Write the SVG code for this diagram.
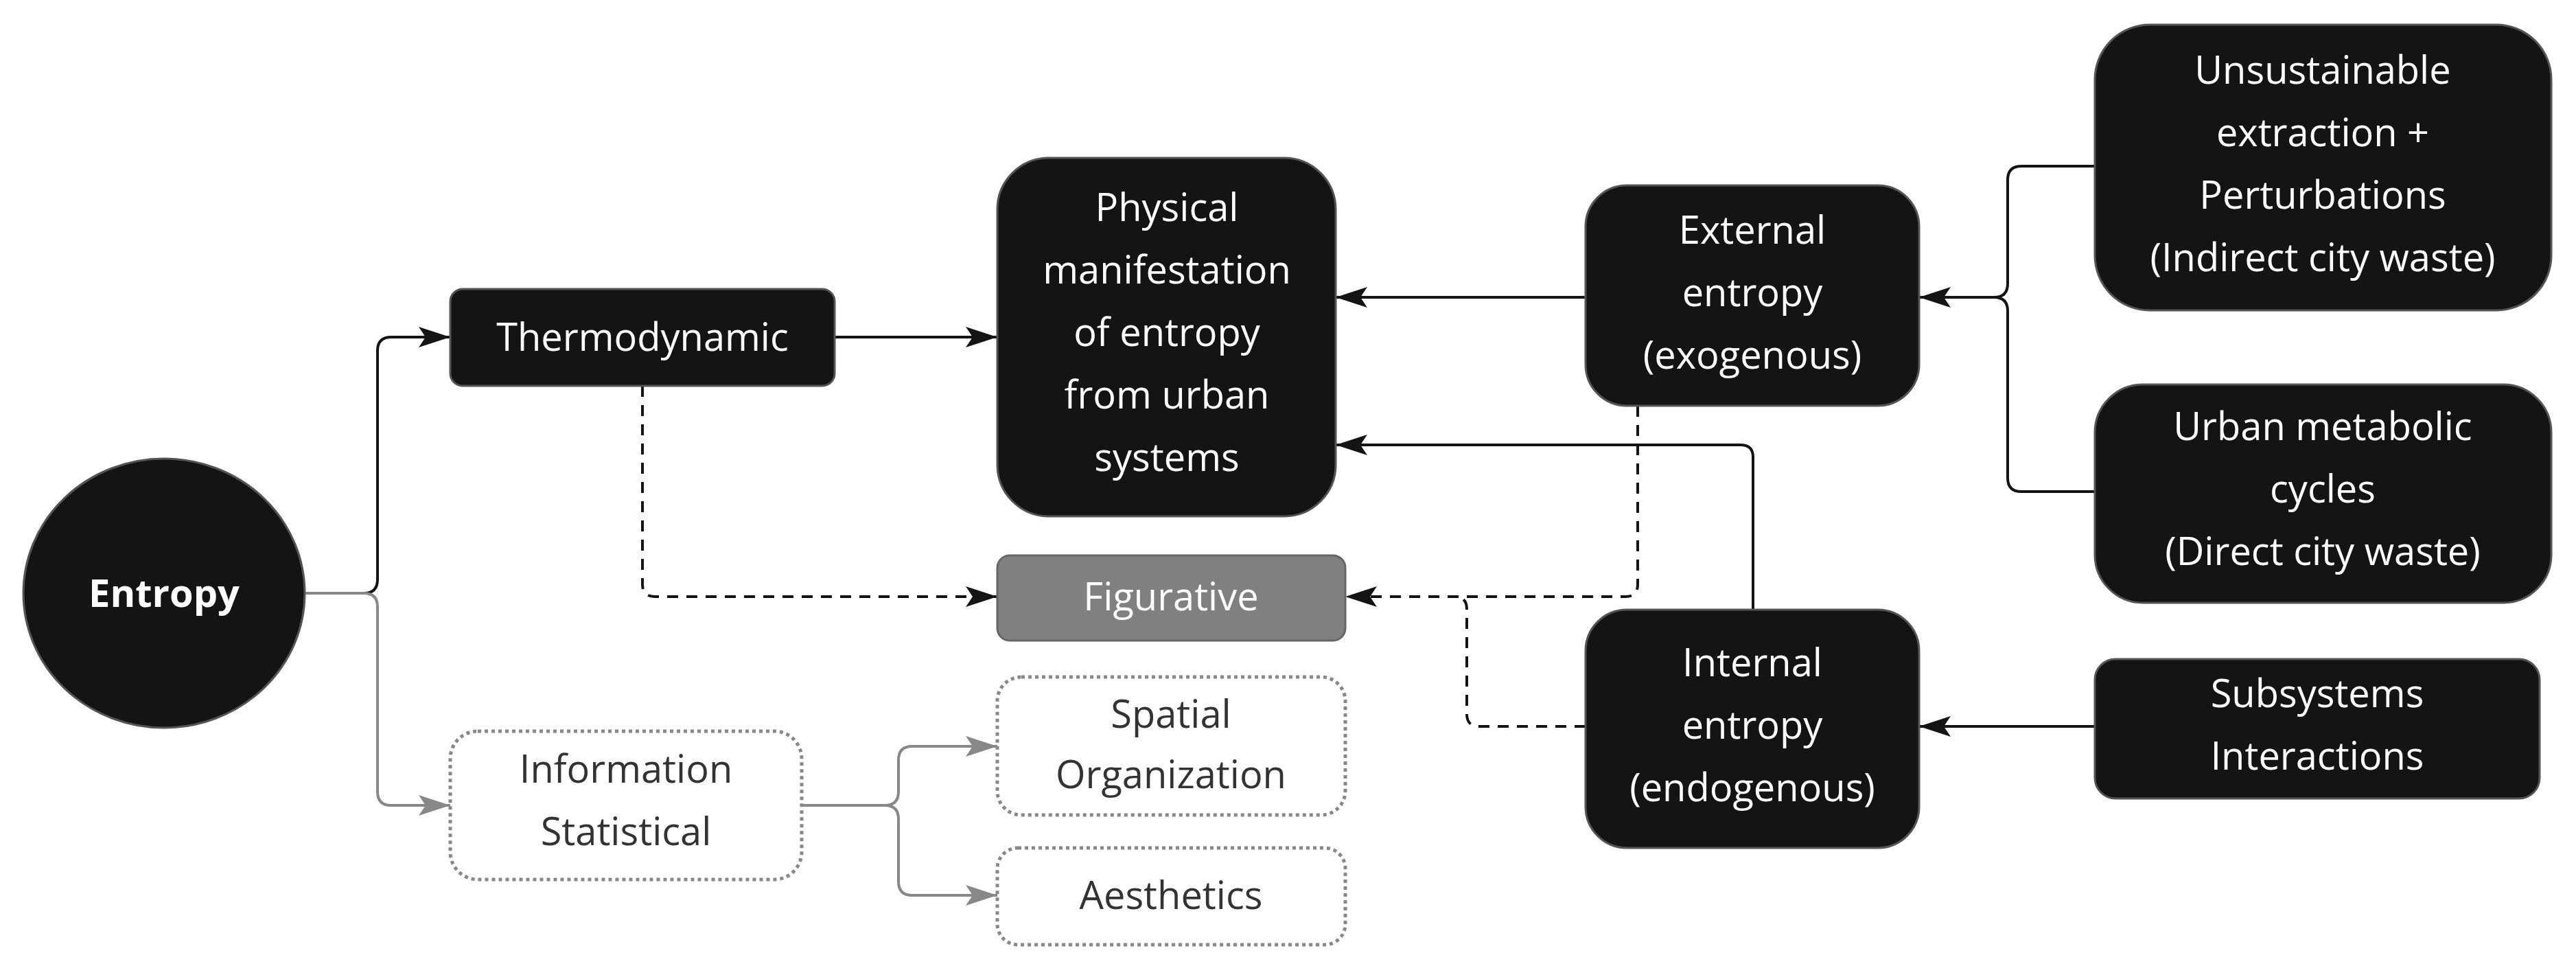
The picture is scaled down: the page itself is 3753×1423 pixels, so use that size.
<svg xmlns="http://www.w3.org/2000/svg" width="3753" height="1423" viewBox="0 0 3753 1423">
<style>
.n{fill:#141414;stroke:#555;stroke-width:3}
.t{font-family:"Open Sans","Liberation Sans",sans-serif;font-size:56px;fill:#fff;text-anchor:middle}
.d{fill:#fff;stroke:#888;stroke-width:5;stroke-dasharray:5 5}
.dt{font-family:"Open Sans","Liberation Sans",sans-serif;font-size:56px;fill:#333;text-anchor:middle}
.c{fill:none;stroke:#141414;stroke-width:4}
.g{fill:none;stroke:#888;stroke-width:4}
.dash{stroke-dasharray:16 12}
</style>
<defs>
<marker id="a" markerUnits="userSpaceOnUse" markerWidth="46" markerHeight="30" refX="46" refY="15" orient="auto"><path d="M0,0 L46,15 L0,30 L10,15 Z" fill="#141414"/></marker>
<marker id="ag" markerUnits="userSpaceOnUse" markerWidth="46" markerHeight="30" refX="46" refY="15" orient="auto"><path d="M0,0 L46,15 L0,30 L10,15 Z" fill="#888"/></marker>
</defs>
<rect width="3753" height="1423" fill="#fff"/>
<g id="connectors">
<path class="c" d="M445,864 H530 Q550,864 550,844 V511 Q550,491 570,491 H656" marker-end="url(#a)"/>
<path class="g" d="M445,864 H530 Q550,864 550,884 V1153 Q550,1173 570,1173 H656" marker-end="url(#ag)"/>
<path class="c" d="M1216,491 H1453" marker-end="url(#a)"/>
<path class="c dash" d="M936,562 V851 Q936,869 954,869 H1453" marker-end="url(#a)"/>
<path class="c" d="M2310,433 H1946" marker-end="url(#a)"/>
<path class="c" d="M2554,888 V666 Q2554,648 2536,648 H1946" marker-end="url(#a)"/>
<path class="c dash" d="M2386,591 V851 Q2386,869 2368,869 H1960" marker-end="url(#a)"/>
<path class="c dash" d="M2310,1058 H2155 Q2137,1058 2137,1040 V887 Q2137,869 2119,869"/>
<path class="c" d="M3052,242 H2945 Q2925,242 2925,262 V413 Q2925,433 2905,433 H2796" marker-end="url(#a)"/>
<path class="c" d="M3052,716 H2945 Q2925,716 2925,696 V453 Q2925,433 2905,433"/>
<path class="c" d="M3052,1058 H2796" marker-end="url(#a)"/>
<path class="g" d="M1168,1173 H1289 Q1309,1173 1309,1153 V1107 Q1309,1087 1329,1087 H1453" marker-end="url(#ag)"/>
<path class="g" d="M1168,1173 H1289 Q1309,1173 1309,1193 V1284 Q1309,1304 1329,1304 H1453" marker-end="url(#ag)"/>
</g>
<g id="entropy"><ellipse class="n" cx="239" cy="864" rx="205" ry="196"/><text class="t" x="239" y="884" font-weight="bold" font-size="64">Entropy</text></g>
<g id="thermo"><rect class="n" x="656" y="421" width="560" height="141" rx="18"/><text class="t" x="936" y="511">Thermodynamic</text></g>
<g id="physical"><rect class="n" x="1453" y="230" width="493" height="522" rx="75"/><text class="t" x="1700" y="322">Physical<tspan x="1700" dy="91">manifestation</tspan><tspan x="1700" dy="91">of entropy</tspan><tspan x="1700" dy="91">from urban</tspan><tspan x="1700" dy="91">systems</tspan></text></g>
<g id="figurative"><rect x="1453" y="809" width="507" height="124" rx="18" fill="#808080" stroke="#666" stroke-width="3"/><text class="t" x="1706" y="889">Figurative</text></g>
<g id="spatial"><rect class="d" x="1453" y="986" width="507" height="201" rx="35"/><text class="dt" x="1706" y="1060">Spatial<tspan x="1706" dy="88">Organization</tspan></text></g>
<g id="aesthetics"><rect class="d" x="1453" y="1235" width="507" height="141" rx="30"/><text class="dt" x="1706" y="1324">Aesthetics</text></g>
<g id="information"><rect class="d" x="656" y="1065" width="512" height="216" rx="40"/><text class="dt" x="912" y="1140">Information<tspan x="912" dy="91">Statistical</tspan></text></g>
<g id="external"><rect class="n" x="2310" y="270" width="486" height="321" rx="60"/><text class="t" x="2553" y="355">External<tspan x="2553" dy="91">entropy</tspan><tspan x="2553" dy="91">(exogenous)</tspan></text></g>
<g id="internal"><rect class="n" x="2310" y="888" width="486" height="347" rx="60"/><text class="t" x="2553" y="985">Internal<tspan x="2553" dy="91">entropy</tspan><tspan x="2553" dy="91">(endogenous)</tspan></text></g>
<g id="unsustainable"><rect class="n" x="3052" y="36" width="665" height="416" rx="80"/><text class="t" x="3384" y="122">Unsustainable<tspan x="3384" dy="91">extraction +</tspan><tspan x="3384" dy="91">Perturbations</tspan><tspan x="3384" dy="91">(Indirect city waste)</tspan></text></g>
<g id="metabolic"><rect class="n" x="3052" y="560" width="665" height="318" rx="70"/><text class="t" x="3384" y="641">Urban metabolic<tspan x="3384" dy="91">cycles</tspan><tspan x="3384" dy="91">(Direct city waste)</tspan></text></g>
<g id="subsystems"><rect class="n" x="3052" y="960" width="648" height="203" rx="30"/><text class="t" x="3376" y="1030">Subsystems<tspan x="3376" dy="91">Interactions</tspan></text></g>
</svg>
